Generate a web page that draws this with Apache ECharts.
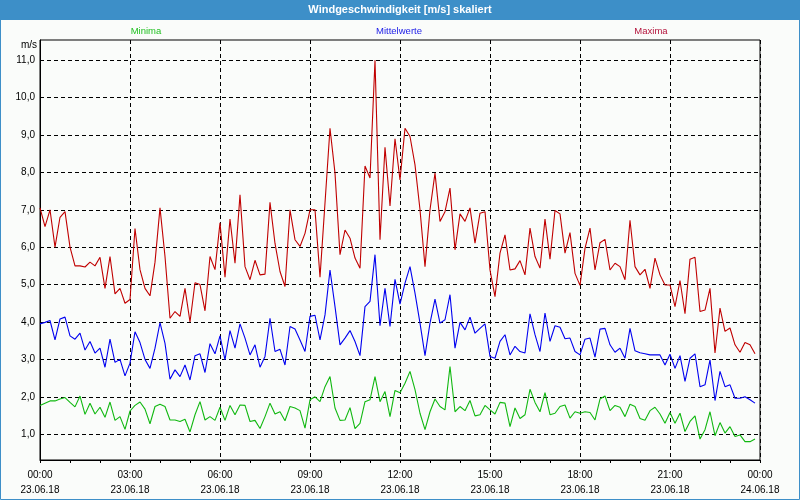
<!DOCTYPE html>
<html>
<head>
<meta charset="utf-8">
<title>Windgeschwindigkeit</title>
<script src="https://cdn.jsdelivr.net/npm/echarts@6/dist/echarts.min.js"></script>
<style>
  html, body { margin: 0; padding: 0; background: #fafcfa; }
  #chart { width: 800px; height: 500px; }
</style>
</head>
<body>
<div id="chart"></div>
<script>
// 10-Minuten-Werte, 23.06.18 00:00 bis 23:50
var minima = [
  1.77, 1.83, 1.89, 1.89, 1.94, 1.98, 1.85, 1.73, 2.02, 1.53,
  1.83, 1.54, 1.72, 1.45, 1.86, 1.37, 1.47, 1.13, 1.62, 1.77,
  1.86, 1.67, 1.28, 1.74, 1.80, 1.74, 1.38, 1.38, 1.34, 1.40,
  1.06, 1.52, 1.87, 1.38, 1.47, 1.37, 1.72, 1.37, 1.77, 1.52,
  1.78, 1.77, 1.34, 1.37, 1.15, 1.47, 1.83, 1.54, 1.60, 1.36,
  1.74, 1.70, 1.63, 1.16, 1.92, 2.00, 1.87, 2.27, 2.54, 1.70,
  1.37, 1.38, 1.71, 1.15, 1.29, 1.87, 1.92, 2.54, 1.87, 2.14,
  1.47, 2.17, 2.11, 2.36, 2.68, 2.19, 1.56, 1.12, 1.60, 1.94,
  1.74, 1.65, 2.81, 1.60, 1.74, 1.63, 1.90, 1.49, 1.52, 1.77,
  1.65, 1.54, 1.85, 1.83, 1.20, 1.70, 1.42, 1.52, 2.20, 1.85,
  1.60, 2.11, 1.52, 1.56, 1.74, 1.78, 1.43, 1.60, 1.56, 1.60,
  1.58, 1.38, 1.94, 2.02, 1.63, 1.77, 1.72, 1.47, 1.80, 1.74,
  1.42, 1.37, 1.63, 1.72, 1.54, 1.29, 1.58, 1.29, 1.56, 1.07,
  1.34, 1.49, 0.87, 1.12, 1.60, 0.96, 1.31, 1.03, 1.20, 0.94,
  0.98, 0.80, 0.80, 0.87
];
var mittelwerte = [
  3.95, 3.99, 4.04, 3.52, 4.08, 4.13, 3.63, 3.54, 3.70, 3.25,
  3.48, 3.17, 3.30, 2.79, 3.54, 2.92, 3.00, 2.56, 2.90, 3.74,
  3.45, 3.00, 2.76, 3.30, 3.98, 3.43, 2.47, 2.72, 2.54, 2.85,
  2.45, 3.10, 3.15, 2.65, 3.42, 3.15, 3.63, 2.99, 3.77, 3.30,
  3.95, 3.57, 3.12, 3.39, 2.79, 3.08, 4.10, 3.21, 3.27, 2.85,
  3.88, 3.81, 3.52, 3.21, 4.15, 4.18, 3.52, 4.19, 5.39, 4.41,
  3.39, 3.57, 3.77, 3.48, 3.10, 4.41, 4.55, 5.80, 3.90, 4.90,
  3.88, 5.14, 4.48, 5.04, 5.48, 4.77, 3.97, 3.10, 3.97, 4.61,
  3.97, 4.06, 4.73, 3.30, 3.99, 3.79, 4.13, 3.70, 3.83, 3.95,
  3.08, 3.03, 3.48, 3.66, 3.12, 3.35, 3.21, 3.17, 4.22, 3.66,
  3.21, 4.24, 3.48, 3.90, 3.86, 3.55, 3.57, 3.21, 3.12, 3.54,
  3.57, 3.06, 3.81, 3.83, 3.39, 3.19, 3.30, 3.03, 3.83, 3.23,
  3.18, 3.15, 3.12, 3.12, 3.12, 2.85, 3.14, 2.76, 3.10, 2.41,
  3.03, 3.15, 2.27, 2.32, 2.99, 1.90, 2.68, 2.27, 2.32, 1.96,
  1.96, 2.00, 1.92, 1.83
];
var maxima = [
  7.05, 6.55, 7.00, 6.00, 6.80, 6.95, 6.00, 5.50, 5.50, 5.47,
  5.60, 5.50, 5.73, 4.90, 5.75, 4.75, 4.90, 4.50, 4.60, 6.50,
  5.40, 4.90, 4.70, 5.60, 7.05, 5.75, 4.10, 4.28, 4.15, 4.90,
  4.00, 5.05, 5.00, 4.30, 5.75, 5.40, 6.65, 5.20, 6.75, 5.57,
  7.40, 5.48, 5.13, 5.65, 5.26, 5.28, 7.20, 6.10, 5.35, 4.95,
  7.00, 6.20, 6.02, 6.37, 7.00, 7.00, 5.20, 7.18, 9.18, 7.98,
  5.80, 6.46, 6.24, 5.71, 5.44, 8.17, 7.85, 11.00, 6.20, 8.67,
  7.10, 8.90, 7.80, 9.18, 8.96, 8.20, 7.00, 5.48, 7.00, 7.98,
  6.69, 6.95, 7.58, 5.93, 6.89, 6.69, 7.05, 6.11, 6.91, 6.95,
  5.39, 4.68, 5.84, 6.33, 5.39, 5.42, 5.64, 5.26, 6.51, 5.75,
  5.44, 6.75, 5.68, 6.98, 6.89, 5.84, 6.39, 5.30, 4.98, 5.97,
  6.51, 5.39, 6.12, 6.21, 5.39, 5.57, 5.48, 5.13, 6.72, 5.48,
  5.26, 5.41, 4.90, 5.71, 5.26, 4.99, 4.99, 4.41, 5.11, 4.22,
  5.68, 5.73, 4.28, 4.32, 4.90, 3.17, 4.37, 3.75, 3.84, 3.39,
  3.19, 3.45, 3.39, 3.15
];
var yTicks = [1, 2, 3, 4, 5, 6, 7, 8, 9, 10, 11];
var legendNames = ['Minima', 'Mittelwerte', 'Maxima'];

// Zeitachse: 145 Stuetzstellen (alle 10 Minuten, inkl. 24.06.18 00:00)
var zeiten = [];
for (var i = 0; i <= 144; i++) {
  var h = Math.floor(i / 6) % 24;
  var m = (i % 6) * 10;
  var datum = i < 144 ? '23.06.18' : '24.06.18';
  zeiten.push(String(h).padStart(2, '0') + ':' + String(m).padStart(2, '0') + '|' + datum);
}

var BLAU = '#3d8fc8';
var FONT = '"Liberation Sans", Arial, sans-serif';

var chart = echarts.init(document.getElementById('chart'), null, { renderer: 'canvas' });

var option = {
  animation: false,
  backgroundColor: '#fafcfa',
  textStyle: { fontFamily: FONT },
  grid: {
    left: 40,
    right: 40,
    top: 40,
    bottom: 40,
    show: true,
    borderColor: '#000',
    borderWidth: 1,
    backgroundColor: '#fafcfa'
  },
  graphic: [
    {
      type: 'rect',
      left: 0,
      top: 0,
      shape: { width: 800, height: 20 },
      style: { fill: BLAU }
    },
    {
      type: 'rect',
      silent: true,
      shape: { x: 0.5, y: 0.5, width: 799, height: 499 },
      style: { fill: 'none', stroke: BLAU, lineWidth: 1 }
    },
    {
      type: 'text',
      x: 400,
      y: 10,
      style: {
        text: 'Windgeschwindigkeit [m/s] skaliert',
        fill: '#fff',
        font: 'bold 11px ' + FONT,
        textAlign: 'center',
        textVerticalAlign: 'middle'
      }
    },
    {
      type: 'text',
      x: 146,
      y: 31,
      style: {
        text: legendNames[0],
        fill: '#22c022',
        font: '9.5px ' + FONT,
        textAlign: 'center',
        textVerticalAlign: 'middle'
      }
    },
    {
      type: 'text',
      x: 399,
      y: 31,
      style: {
        text: legendNames[1],
        fill: '#2020e8',
        font: '9.5px ' + FONT,
        textAlign: 'center',
        textVerticalAlign: 'middle'
      }
    },
    {
      type: 'text',
      x: 651,
      y: 31,
      style: {
        text: legendNames[2],
        fill: '#b4143c',
        font: '9.5px ' + FONT,
        textAlign: 'center',
        textVerticalAlign: 'middle'
      }
    },
    {
      type: 'text',
      x: 37,
      y: 45,
      style: {
        text: 'm/s',
        fill: '#000',
        font: '10px ' + FONT,
        textAlign: 'right',
        textVerticalAlign: 'middle'
      }
    }
  ],
  xAxis: {
    type: 'category',
    data: zeiten,
    boundaryGap: false,
    axisLine: { lineStyle: { color: '#000', width: 1 } },
    axisTick: { interval: 5, length: 3, lineStyle: { color: '#000' } },
    axisLabel: {
      interval: 17,
      color: '#000',
      fontSize: 10,
      lineHeight: 15,
      margin: 8,
      formatter: function (value) {
        var parts = value.split('|');
        return parts[0] + '\n' + parts[1];
      }
    },
    splitLine: {
      show: true,
      interval: 17,
      lineStyle: { color: '#000', type: [4, 3], width: 1 }
    }
  },
  yAxis: {
    type: 'value',
    min: 0.31,
    max: 11.54,
    axisLine: { show: true, lineStyle: { color: '#000', width: 1 } },
    axisTick: { show: false, customValues: yTicks },
    axisLabel: {
      customValues: yTicks,
      color: '#000',
      fontSize: 10,
      margin: 5,
      formatter: function (v) {
        return v.toFixed(1).replace('.', ',');
      }
    },
    splitLine: {
      show: true,
      lineStyle: { color: '#000', type: [4, 3], width: 1 }
    }
  },
  series: [
    {
      name: legendNames[2],
      type: 'line',
      data: maxima,
      symbol: 'none',
      lineStyle: { color: '#c00000', width: 1.1 }
    },
    {
      name: legendNames[1],
      type: 'line',
      data: mittelwerte,
      symbol: 'none',
      lineStyle: { color: '#0000f0', width: 1.1 }
    },
    {
      name: legendNames[0],
      type: 'line',
      data: minima,
      symbol: 'none',
      lineStyle: { color: '#10b810', width: 1.1 }
    }
  ]
};

chart.setOption(option);
</script>
</body>
</html>
